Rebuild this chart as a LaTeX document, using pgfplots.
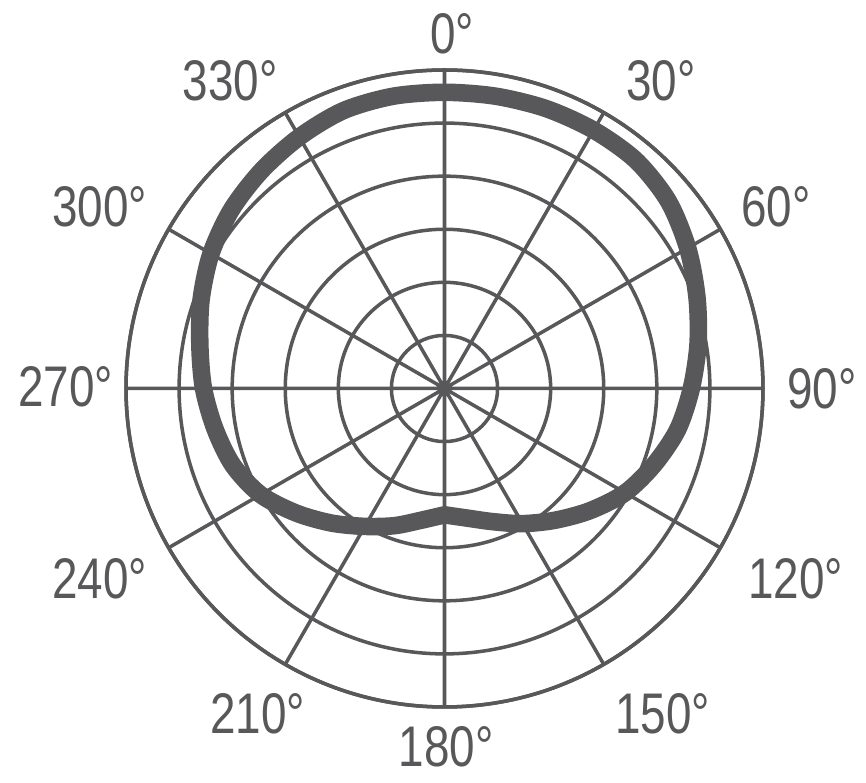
\documentclass[border=0pt]{standalone}
\usepackage{fontspec}
\setmainfont{Liberation Sans}[FakeStretch=0.80]
\usepackage{pgfplots}
\pgfplotsset{compat=1.18}
\usepgfplotslibrary{polar}
\definecolor{ink}{HTML}{58585A}

% polar pattern, bearing in degrees (0 = top, clockwise), radius in rings (outer ring = 6)
% starts and ends at 180 so the rear notch stays pointed
\pgfplotstableread{
ang   r
180   2.38
190   2.52
200   2.75
210   3.00
220   3.31
230   3.65
240   4.00
250   4.24
260   4.39
270   4.54
280   4.68
290   4.88
300   5.08
310   5.24
320   5.36
330   5.47
340   5.57
350   5.59
360   5.58
370   5.59
380   5.61
390   5.62
400   5.61
410   5.50
420   5.29
430   5.06
440   4.85
450   4.65
460   4.46
470   4.20
480   3.93
490   3.58
500   3.24
510   2.94
520   2.67
530   2.48
540   2.38
}\pattern

\begin{document}
\begin{tikzpicture}[lbl/.style={font=\fontsize{16.3}{19}\selectfont, text=ink, inner sep=0pt, anchor=center}]
\begin{polaraxis}[
    width=6.37cm, height=6.37cm,
    scale only axis,
    ymin=0, ymax=6,
    ytick={1,2,3,4,5,6},
    yticklabel=\empty,
    xtick={0,30,...,330},
    xticklabel=\empty,
    major tick length=0pt,
    grid=major,
    major grid style={draw=ink, line width=1pt},
    axis line style={draw=ink, line width=1pt},
    x filter/.expression={90-x},
]
\addplot[draw=ink, line width=5pt, smooth, no marks, line cap=round, line join=round] table[x=ang, y=r] {\pattern};
\coordinate (O) at (axis cs:0,0);
\end{polaraxis}
\node[lbl] at ([shift={(0.078cm,3.55cm)}]O) {0°};
\node[lbl] at ([shift={(2.165cm,3.08cm)}]O) {30°};
\node[lbl] at ([shift={(3.315cm,1.82cm)}]O) {60°};
\node[lbl] at ([shift={(3.775cm,0cm)}]O) {90°};
\node[lbl] at ([shift={(3.51cm,-1.90cm)}]O) {120°};
\node[lbl] at ([shift={(2.18cm,-3.25cm)}]O) {150°};
\node[lbl] at ([shift={(0.015cm,-3.58cm)}]O) {180°};
\node[lbl] at ([shift={(-1.87cm,-3.25cm)}]O) {210°};
\node[lbl] at ([shift={(-3.45cm,-1.90cm)}]O) {240°};
\node[lbl] at ([shift={(-3.79cm,0.018cm)}]O) {270°};
\node[lbl] at ([shift={(-3.45cm,1.82cm)}]O) {300°};
\node[lbl] at ([shift={(-2.145cm,3.08cm)}]O) {330°};
\pgfresetboundingbox
\path ([shift={(-4.445cm,-3.945cm)}]O) rectangle ([shift={(4.215cm,3.885cm)}]O);
\end{tikzpicture}
\end{document}
